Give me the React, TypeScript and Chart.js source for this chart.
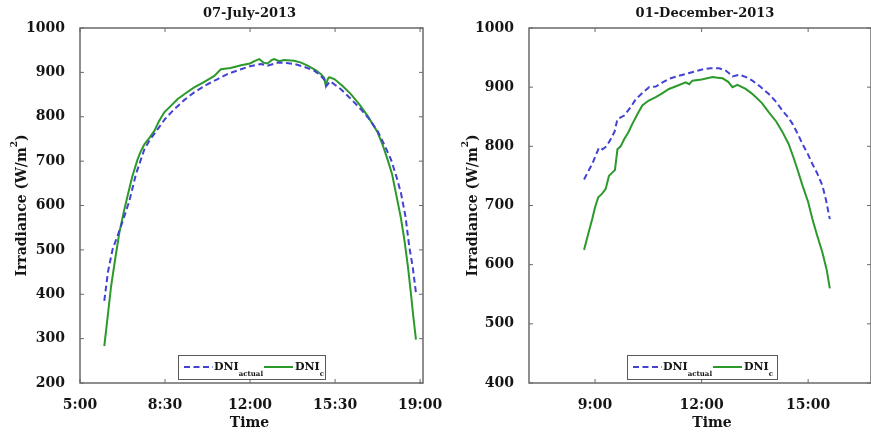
import React, { useEffect, useRef } from 'react';
import { Chart, registerables } from 'chart.js';

Chart.register(...registerables);

// ---------- DATA ----------
// 07-July-2013 (time in decimal hours)
const julyActualTime = [6.0, 6.15, 6.34, 6.5, 6.69, 6.85, 7.03, 7.3, 7.65, 7.9, 8.2, 8.5, 8.88, 9.3, 9.7, 10.2, 10.67, 11.1, 11.63, 12.0, 12.45, 12.72, 13.14, 13.5, 13.82, 14.2, 14.64, 14.9, 15.08, 15.15, 15.3, 15.74, 16.1, 16.56, 16.9, 17.25, 17.5, 17.8, 18.0, 18.21, 18.4, 18.55, 18.7, 18.83];
const julyActual = [385, 450, 501, 525, 554, 580, 610, 670, 727, 750, 772, 795, 817, 838, 855, 872, 885, 897, 907, 914, 919, 915, 922, 921, 919, 913, 904, 893, 882, 870, 880, 862, 843, 817, 795, 768, 740, 704, 670, 629, 575, 509, 460, 403];
const julyCalcTime = [6.0, 6.14, 6.28, 6.45, 6.62, 6.8, 6.96, 7.15, 7.37, 7.5, 7.65, 7.85, 8.06, 8.25, 8.47, 8.75, 9.02, 9.35, 9.7, 10.1, 10.53, 10.8, 11.2, 11.63, 12.0, 12.2, 12.38, 12.55, 12.72, 12.9, 13.0, 13.2, 13.4, 13.82, 14.1, 14.37, 14.7, 14.92, 15.05, 15.12, 15.2, 15.26, 15.47, 15.8, 16.15, 16.5, 16.84, 17.25, 17.45, 17.66, 17.85, 18.0, 18.2, 18.35, 18.5, 18.62, 18.72, 18.83];
const julyCalc = [283, 350, 418, 480, 539, 585, 622, 665, 704, 722, 738, 752, 768, 790, 810, 825, 840, 853, 866, 878, 892, 907, 910, 916, 920, 926, 930, 922, 920, 928, 930, 925, 928, 926, 922, 915, 905, 896, 888, 870, 885, 889, 885, 870, 851, 828, 802, 765, 738, 704, 670, 629, 575, 524, 462, 403, 350, 298];
const julyTickHours = [5, 8.5, 12, 15.5, 19];
const julyYTicks = [200, 300, 400, 500, 600, 700, 800, 900, 1000];

// 01-December-2013
const decActualTime = [8.69, 8.8, 8.92, 9.02, 9.11, 9.21, 9.32, 9.44, 9.55, 9.63, 9.82, 10.0, 10.15, 10.35, 10.52, 10.71, 10.9, 11.08, 11.35, 11.65, 12.02, 12.25, 12.49, 12.68, 12.78, 12.87, 13.06, 13.25, 13.43, 13.65, 13.9, 14.1, 14.28, 14.45, 14.56, 14.7, 14.84, 15.0, 15.12, 15.25, 15.4, 15.5, 15.61];
const decActual = [744, 757, 770, 785, 798, 795, 800, 812, 825, 846, 852, 866, 880, 891, 900, 901, 908, 914, 919, 924, 930, 932, 932, 928, 923, 918, 921, 917, 911, 901, 888, 875, 860, 848, 838, 822, 804, 786, 770, 755, 734, 710, 677];
const decCalcTime = [8.69, 8.8, 8.92, 9.0, 9.09, 9.2, 9.3, 9.39, 9.49, 9.56, 9.63, 9.72, 9.82, 9.95, 10.05, 10.2, 10.33, 10.5, 10.71, 10.9, 11.08, 11.3, 11.55, 11.65, 11.74, 12.0, 12.31, 12.45, 12.59, 12.75, 12.87, 13.01, 13.24, 13.4, 13.53, 13.7, 13.9, 14.1, 14.28, 14.45, 14.6, 14.72, 14.84, 15.0, 15.12, 15.25, 15.4, 15.52, 15.61];
const decCalc = [625, 650, 677, 697, 714, 720, 728, 750, 756, 760, 795, 800, 812, 825, 838, 855, 869, 877, 883, 890, 897, 902, 908, 905, 911, 913, 917, 916, 915, 909, 900, 904, 897, 890, 883, 873, 857, 842, 824, 804, 779, 757, 734, 706, 677, 650, 621, 592, 560];
const decTickHours = [9, 12, 15];
const decYTicks = [400, 500, 600, 700, 800, 900, 1000];

const titles = ['07-July-2013', '01-December-2013'];

// ---------- STYLE ----------
const FAMILY = '"DejaVu Serif", serif';
const BLUE = '#4242d4';
const GREEN = '#2b9a2b';
const AXIS = '#6a6a6a';
const TEXT = '#151515';

const fmtHour = (v: number) => {
  const h = Math.floor(v + 1e-6);
  const m = Math.round((v - h) * 60);
  return `${h}:${m < 10 ? '0' + m : m}`;
};

const framePlugin = {
  id: 'frame',
  afterDraw(chart: any, _args: any, opts: any) {
    const { ctx, chartArea: a, scales } = chart;
    ctx.save();
    // frame box
    ctx.strokeStyle = AXIS;
    ctx.lineWidth = 1.5;
    ctx.strokeRect(a.left, a.top, a.right - a.left, a.bottom - a.top);
    // inward tick marks
    ctx.lineWidth = 1;
    const seg = (x1: number, y1: number, x2: number, y2: number) => {
      ctx.beginPath();
      ctx.moveTo(x1, y1);
      ctx.lineTo(x2, y2);
      ctx.stroke();
    };
    scales.x.ticks.forEach((t: any) => {
      const x = scales.x.getPixelForValue(t.value);
      seg(x, a.bottom, x, a.bottom - 4);
      seg(x, a.top, x, a.top + 4);
    });
    scales.y.ticks.forEach((t: any) => {
      const y = scales.y.getPixelForValue(t.value);
      seg(a.left, y, a.left + 4, y);
      seg(a.right, y, a.right - 4, y);
    });

    const cx = (a.left + a.right) / 2;
    ctx.fillStyle = TEXT;
    // title
    ctx.font = `bold 13px ${FAMILY}`;
    ctx.textAlign = 'center';
    ctx.textBaseline = 'middle';
    ctx.fillText(opts.title, cx + (opts.titleDx || 0), 14);
    // x title
    ctx.font = `bold 14px ${FAMILY}`;
    ctx.fillText('Time', cx + (opts.xTitleDx || 0), 423);
    // y title with superscript
    const yc = (a.top + a.bottom) / 2;
    ctx.save();
    ctx.translate(a.left - opts.yTitleOffset, yc);
    ctx.rotate(-Math.PI / 2);
    ctx.textAlign = 'left';
    ctx.textBaseline = 'middle';
    const big = `bold 14px ${FAMILY}`;
    const small = `bold 9px ${FAMILY}`;
    ctx.font = big;
    const s1 = 'Irradiance (W/m';
    const w1 = ctx.measureText(s1).width;
    const w3 = ctx.measureText(')').width;
    ctx.font = small;
    const w2 = ctx.measureText('2').width;
    const x0 = -(w1 + w2 + w3) / 2;
    ctx.font = big;
    ctx.fillText(s1, x0, 0);
    ctx.font = small;
    ctx.fillText('2', x0 + w1, -7);
    ctx.font = big;
    ctx.fillText(')', x0 + w1 + w2, 0);
    ctx.restore();

    // legend
    const lw = opts.legendWidth;
    const lx = cx + (opts.legendDx || 0) - lw / 2;
    const ly = a.bottom - 28;
    const lh = 24;
    ctx.fillStyle = '#ffffff';
    ctx.fillRect(lx, ly, lw, lh);
    ctx.strokeStyle = '#5a5a5a';
    ctx.lineWidth = 1;
    ctx.strokeRect(lx + 0.5, ly + 0.5, lw, lh);
    const my = ly + 12;
    ctx.lineWidth = 2;
    ctx.strokeStyle = BLUE;
    ctx.setLineDash([6, 3.5]);
    seg(lx + 6, my, lx + 35, my);
    ctx.setLineDash([]);
    ctx.strokeStyle = GREEN;
    seg(lx + 86, my, lx + 115, my);
    ctx.fillStyle = TEXT;
    ctx.textAlign = 'left';
    ctx.textBaseline = 'alphabetic';
    const drawLbl = (x: number, sub: string) => {
      ctx.font = `bold 11px ${FAMILY}`;
      ctx.fillText('DNI', x, my + 3);
      const w = ctx.measureText('DNI').width;
      ctx.font = `bold 7px ${FAMILY}`;
      ctx.fillText(sub, x + w, my + 9);
    };
    drawLbl(lx + 36, 'actual');
    drawLbl(lx + 117, 'c');
    ctx.restore();
  },
};

function buildConfig(p: {
  actualT: number[]; actual: number[]; calcT: number[]; calc: number[];
  xMin: number; xMax: number; xTicks: number[]; yMin: number; yTicks: number[];
  yWidth: number; padRight: number; frame: any;
}) {
  const tickFont = { family: FAMILY, size: 14, weight: 'bold' as const };
  return {
    type: 'line' as const,
    data: {
      datasets: [
        {
          label: 'DNI actual',
          data: p.actualT.map((t, i) => ({ x: t, y: p.actual[i] })),
          borderColor: BLUE,
          borderWidth: 2,
          borderDash: [6, 3.5],
          pointRadius: 0,
          tension: 0,
          fill: false,
        },
        {
          label: 'DNI c',
          data: p.calcT.map((t, i) => ({ x: t, y: p.calc[i] })),
          borderColor: GREEN,
          borderWidth: 2,
          pointRadius: 0,
          tension: 0,
          fill: false,
        },
      ],
    },
    options: {
      responsive: false,
      animation: false as const,
      layout: { padding: { left: 0, right: p.padRight, top: 28, bottom: 0 } },
      plugins: {
        legend: { display: false },
        title: { display: false },
        tooltip: { enabled: false },
        frame: p.frame,
      },
      scales: {
        x: {
          type: 'linear' as const,
          min: p.xMin,
          max: p.xMax,
          afterBuildTicks: (s: any) => { s.ticks = p.xTicks.map((v) => ({ value: v })); },
          afterFit: (s: any) => { s.height = 51; },
          grid: { display: false },
          border: { display: false },
          ticks: {
            padding: 6,
            autoSkip: false,
            maxRotation: 0,
            color: TEXT,
            font: tickFont,
            callback: (v: any) => fmtHour(Number(v)),
          },
        },
        y: {
          type: 'linear' as const,
          min: p.yMin,
          max: 1000,
          afterBuildTicks: (s: any) => { s.ticks = p.yTicks.map((v) => ({ value: v })); },
          afterFit: (s: any) => { s.width = p.yWidth; },
          grid: { display: false },
          border: { display: false },
          ticks: {
            padding: 7,
            color: TEXT,
            font: tickFont,
            callback: (v: any) => String(v),
          },
        },
      },
    },
    plugins: [framePlugin],
  };
}

export default function App() {
  const leftRef = useRef<HTMLCanvasElement>(null);
  const rightRef = useRef<HTMLCanvasElement>(null);

  useEffect(() => {
    const c1 = new Chart(leftRef.current as HTMLCanvasElement, buildConfig({
      actualT: julyActualTime, actual: julyActual, calcT: julyCalcTime, calc: julyCalc,
      xMin: 5, xMax: 19.12, xTicks: julyTickHours, yMin: 200, yTicks: julyYTicks,
      yWidth: 80, padRight: 470 - 423,
      frame: { title: titles[0], titleDx: -2, xTitleDx: -2, yTitleOffset: 58, legendWidth: 147, legendDx: 0 },
    }) as any);
    const c2 = new Chart(rightRef.current as HTMLCanvasElement, buildConfig({
      actualT: decActualTime, actual: decActual, calcT: decCalcTime, calc: decCalc,
      xMin: 7.14, xMax: 16.77, xTicks: decTickHours, yMin: 400, yTicks: decYTicks,
      yWidth: 93, padRight: 0,
      frame: { title: titles[1], titleDx: 5, xTitleDx: 12, yTitleOffset: 56, legendWidth: 150, legendDx: 2 },
    }) as any);
    return () => { c1.destroy(); c2.destroy(); };
  }, []);

  return (
    <div style={{ position: 'absolute', left: 0, top: 0, width: 871, height: 434, background: '#ffffff', overflow: 'hidden' }}>
      <canvas ref={leftRef} width={470} height={434} style={{ position: 'absolute', left: 0, top: 0, width: 470, height: 434 }} />
      <canvas ref={rightRef} width={435} height={434} style={{ position: 'absolute', left: 436, top: 0, width: 435, height: 434 }} />
    </div>
  );
}
